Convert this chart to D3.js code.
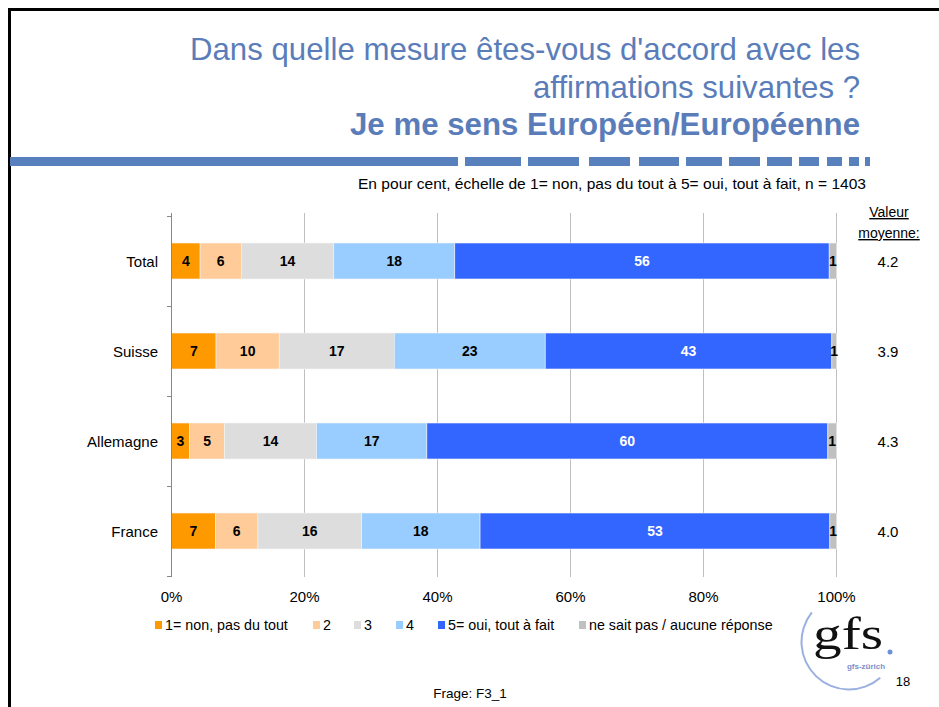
<!DOCTYPE html>
<html><head><meta charset="utf-8">
<script src="https://cdn.jsdelivr.net/npm/d3@7/dist/d3.min.js"></script>
<style>
html,body{margin:0;padding:0;background:#fff;}
svg{display:block;}
</style></head>
<body>
<svg id="chart" width="939" height="707"></svg>
<script>
const categories = ["Total", "Suisse", "Allemagne", "France"];
const seriesNames = ["1= non, pas du tout", "2", "3", "4", "5= oui, tout à fait", "ne sait pas / aucune réponse"];
const seriesColors = ["#FF9900", "#FFCC99", "#DDDDDD", "#99CCFF", "#3366FF", "#C0C0C0"];
const labelColors = ["#000", "#000", "#000", "#000", "#fff", "#000"];
// shares in percent per category, series order as seriesNames
const s1 = [4.3, 6.7, 2.7, 6.6];
const s2 = [6.2, 9.5, 5.3, 6.4];
const s3 = [13.9, 17.3, 13.8, 15.6];
const s4 = [18.2, 22.7, 16.6, 17.8];
const s5 = [56.3, 43.1, 60.3, 52.6];
const s6 = [1.1, 0.7, 1.3, 1.0];
const shownLabels = [
  [4, 6, 14, 18, 56, 1],
  [7, 10, 17, 23, 43, 1],
  [3, 5, 14, 17, 60, 1],
  [7, 6, 16, 18, 53, 1]
];
const meanValues = ["4.2", "3.9", "4.3", "4.0"];
const xTicks = [0, 20, 40, 60, 80, 100];
const titleLines = ["Dans quelle mesure êtes-vous d'accord avec les", "affirmations suivantes ?"];
const titleBold = "Je me sens Européen/Européenne";
const subtitle = "En pour cent, échelle de 1= non, pas du tout à 5= oui, tout à fait, n = 1403";
const meanHeader = ["Valeur", "moyenne:"];
const footer = "Frage: F3_1";
const pageNo = "18";

const series = [s1, s2, s3, s4, s5, s6];
const svg = d3.select("#chart");
const SANS = "'Liberation Sans', Arial, sans-serif";
const TITLE_BLUE = "#5A7DBA";

// frame
svg.append("path").attr("d", "M9.5,720 V9.5 H939").attr("fill", "none").attr("stroke", "#000").attr("stroke-width", 3);

// title
const tg = svg.append("g").attr("font-family", SANS).attr("fill", TITLE_BLUE).attr("text-anchor", "end");
tg.append("text").attr("x", 860).attr("y", 60).attr("font-size", 32)
  .attr("textLength", 670).attr("lengthAdjust", "spacingAndGlyphs").text(titleLines[0]);
tg.append("text").attr("x", 860).attr("y", 98).attr("font-size", 32)
  .attr("textLength", 327).attr("lengthAdjust", "spacingAndGlyphs").text(titleLines[1]);
tg.append("text").attr("x", 860).attr("y", 135).attr("font-size", 32).attr("font-weight", "bold")
  .attr("textLength", 510).attr("lengthAdjust", "spacingAndGlyphs").text(titleBold);

// dashed rule
const dashSegs = [[10,458],[465,521],[528,579],[589,630],[639,679],[686,722],[729,760],[767,792],[799,819],[827,842],[849,859],[865,870]];
svg.append("g").selectAll("rect").data(dashSegs).join("rect")
  .attr("x", d => d[0]).attr("width", d => d[1]-d[0]).attr("y", 157).attr("height", 9).attr("fill", "#5780BC");

// subtitle
svg.append("text").attr("x", 866).attr("y", 189).attr("text-anchor", "end")
  .attr("font-family", SANS).attr("font-size", 14.5).attr("fill", "#000")
  .attr("textLength", 508).attr("lengthAdjust", "spacingAndGlyphs").text(subtitle);

// scales
const x = d3.scaleLinear().domain([0, 100]).range([171.5, 836.5]);
const y = d3.scaleBand().domain(categories).range([216, 576]).paddingInner(0.6).paddingOuter(0.3);

// gridlines
svg.append("g").selectAll("line").data(xTicks.filter(t => t > 0)).join("line")
  .attr("x1", d => x(d)).attr("x2", d => x(d)).attr("y1", 213).attr("y2", 577)
  .attr("stroke", "#C0C0C0").attr("stroke-width", 1).attr("shape-rendering", "crispEdges");

// bars
const rows = categories.map((c, i) => {
  let acc = 0;
  return series.map((s, k) => { const v = s[i]; const r = {c, k, x0: acc, x1: acc + v, lab: shownLabels[i][k]}; acc += v; return r; });
});
const barG = svg.append("g");
rows.forEach(row => {
  barG.selectAll(null).data(row).join("rect")
    .attr("x", d => x(d.x0)).attr("width", d => x(d.x1) - x(d.x0))
    .attr("y", d => y(d.c)).attr("height", y.bandwidth())
    .attr("fill", d => seriesColors[d.k]).attr("stroke", "#f4f4f4").attr("stroke-width", 0.6);
  barG.selectAll(null).data(row).join("text")
    .attr("x", d => x((d.x0 + d.x1) / 2)).attr("y", d => y(d.c) + y.bandwidth() / 2 + 5)
    .attr("text-anchor", "middle").attr("font-family", SANS).attr("font-weight", "bold").attr("font-size", 14)
    .attr("fill", d => labelColors[d.k]).text(d => d.lab);
});

// left axis
const axG = svg.append("g");
axG.append("line").attr("x1", 171.5).attr("x2", 171.5).attr("y1", 213).attr("y2", 577).attr("stroke", "#888");
const bounds = categories.map(c => y(c) - y.step() * y.paddingInner() / 2).concat([576]);
axG.selectAll(null).data(bounds).join("line")
  .attr("x1", 167).attr("x2", 171.5).attr("y1", d => Math.round(d) + 0.5).attr("y2", d => Math.round(d) + 0.5).attr("stroke", "#888");
axG.selectAll(null).data(categories).join("text")
  .attr("x", 158).attr("y", d => y(d) + y.bandwidth() / 2 + 5.5).attr("text-anchor", "end")
  .attr("font-family", SANS).attr("font-size", 15).attr("fill", "#000").text(d => d);

// x tick labels
svg.append("g").selectAll("text").data(xTicks).join("text")
  .attr("x", d => x(d)).attr("y", 602).attr("text-anchor", "middle")
  .attr("font-family", SANS).attr("font-size", 15).attr("fill", "#000").text(d => d + "%");

// mean column
const mg = svg.append("g").attr("font-family", SANS).attr("font-size", 14).attr("fill", "#000").attr("text-anchor", "middle");
mg.append("text").attr("x", 889).attr("y", 217).attr("text-decoration", "underline").text(meanHeader[0]);
mg.append("text").attr("x", 889).attr("y", 238).attr("text-decoration", "underline").text(meanHeader[1]);
mg.selectAll(null).data(categories).join("text")
  .attr("x", 888).attr("y", d => y(d) + y.bandwidth() / 2 + 5.5).attr("font-size", 15).text((d, i) => meanValues[i]);

// legend
const legX = [155, 313, 354, 396, 438, 579];
const lg = svg.append("g").attr("font-family", SANS).attr("font-size", 14.3);
seriesNames.forEach((n, k) => {
  lg.append("rect").attr("x", legX[k]).attr("y", 621).attr("width", 7).attr("height", 8).attr("fill", seriesColors[k]);
  lg.append("text").attr("x", legX[k] + 10).attr("y", 630).attr("fill", "#000").text(n);
});

// footer
svg.append("text").attr("x", 470).attr("y", 698).attr("text-anchor", "middle").attr("font-family", SANS).attr("font-size", 13.5).text(footer);
svg.append("text").attr("x", 903).attr("y", 686).attr("text-anchor", "middle").attr("font-family", SANS).attr("font-size", 13).text(pageNo);

// gfs logo
const logo = svg.append("g");
logo.append("path").attr("transform", "translate(849,642)")
  .attr("d", d3.arc().innerRadius(46.5).outerRadius(48.5).startAngle(-0.9).endAngle(-3.86))
  .attr("fill", "#9AB0E0");
logo.append("text").attr("x", 848).attr("y", 649).attr("text-anchor", "middle")
  .attr("font-family", "'Liberation Serif', 'Times New Roman', serif").attr("font-size", 46).attr("fill", "#111")
  .attr("textLength", 70).attr("lengthAdjust", "spacingAndGlyphs").text("gfs");
logo.append("circle").attr("cx", 890).attr("cy", 652).attr("r", 2.5).attr("fill", "#6F8FD6");
logo.append("text").attr("x", 866).attr("y", 669).attr("text-anchor", "middle")
  .attr("font-family", SANS).attr("font-size", 8).attr("font-weight", "bold").attr("fill", "#7A90CC").text("gfs-zürich");
</script>
</body></html>
